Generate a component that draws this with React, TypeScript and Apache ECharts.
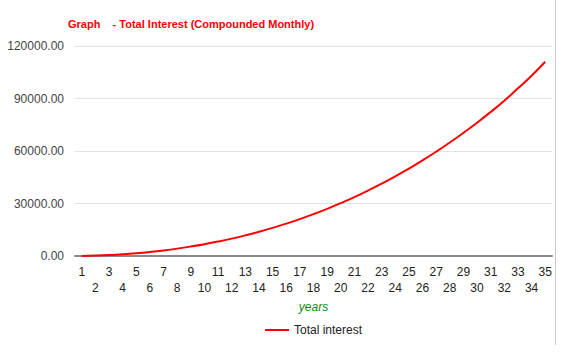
import React, { useEffect, useRef } from "react";
import * as echarts from "echarts";

const years: string[] = Array.from({ length: 35 }, (_, i) => String(i + 1));
const totalInterest: number[] = [
  60, 240, 550, 1000, 1590, 2320, 3190, 4220, 5410, 6750,
  8260, 9940, 11800, 13840, 16070, 18490, 21100, 23920, 26950, 30200,
  33670, 37380, 41320, 45500, 49940, 54630, 59600, 64840, 70370, 76180,
  82300, 88730, 95800, 103000, 111000,
];
const yTicks = { min: 0, max: 120000, interval: 30000 };
const titleText = "Graph    - Total Interest (Compounded Monthly)";
const seriesName = "Total interest";
const xAxisName = "years";

const FONT = "Arial, 'Liberation Sans', sans-serif";

export default function App() {
  const ref = useRef<HTMLDivElement>(null);
  useEffect(() => {
    if (!ref.current) return;
    const chart = echarts.init(ref.current, undefined, { renderer: "svg" });
    chart.setOption({
      animation: false,
      backgroundColor: "#ffffff",
      textStyle: { fontFamily: FONT },
      title: {
        text: titleText,
        left: 63,
        top: 13,
        textStyle: { color: "#ff0000", fontSize: 11, fontWeight: "bold", fontFamily: FONT },
      },
      grid: { left: 75, right: 16, top: 46, bottom: 99, containLabel: false },
      legend: {
        data: [seriesName],
        bottom: 14,
        left: 260,
        icon: "rect",
        itemWidth: 24,
        itemHeight: 2,
        itemGap: 6,
        textStyle: { color: "#222", fontSize: 12, fontFamily: FONT },
      },
      xAxis: {
        type: "category",
        data: years,
        boundaryGap: true,
        name: xAxisName,
        nameLocation: "middle",
        nameGap: 45,
        nameTextStyle: { color: "#118811", fontStyle: "italic", fontSize: 12, fontFamily: FONT },
        axisLine: { lineStyle: { color: "#888", width: 2 } },
        axisTick: { show: false },
        axisLabel: {
          interval: 0,
          margin: 8,
          color: "#222",
          fontSize: 12,
          lineHeight: 16,
          fontFamily: FONT,
          formatter: (v: string, i: number) => (i % 2 === 1 ? "\n" + v : v),
        },
        splitLine: { show: false },
      },
      yAxis: {
        type: "value",
        min: yTicks.min,
        max: yTicks.max,
        interval: yTicks.interval,
        axisLine: { show: false },
        axisTick: { show: false },
        axisLabel: {
          margin: 11,
          color: "#444",
          fontSize: 12,
          fontFamily: FONT,
          formatter: (v: number) => v.toFixed(2),
        },
        splitLine: { lineStyle: { color: "#e3e3e3", width: 1 } },
      },
      series: [
        {
          name: seriesName,
          type: "line",
          data: totalInterest,
          smooth: true,
          symbol: "none",
          lineStyle: { color: "#ff0000", width: 2 },
          itemStyle: { color: "#ff0000" },
        },
      ],
      graphic: [
        {
          type: "line",
          shape: { x1: 555.5, y1: 0, x2: 555.5, y2: 345 },
          style: { stroke: "#cccccc", lineWidth: 1 },
        },
      ],
    });
    return () => chart.dispose();
  }, []);
  return (
    <div
      ref={ref}
      style={{ position: "fixed", left: 0, top: 0, width: 568, height: 355 }}
    />
  );
}
